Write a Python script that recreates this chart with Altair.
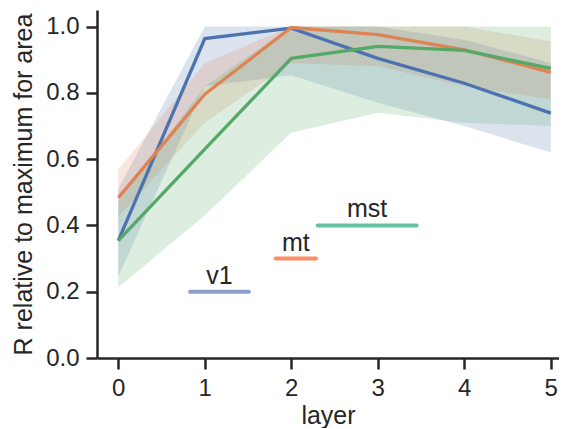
import altair as alt
import pandas as pd

layers = [0, 1, 2, 3, 4, 5]
series = ["v1", "mt", "mst"]

v1_mean = [0.354, 0.964, 0.995, 0.904, 0.829, 0.739]
mt_mean = [0.483, 0.796, 0.997, 0.976, 0.930, 0.862]
mst_mean = [0.354, 0.630, 0.904, 0.940, 0.928, 0.874]

v1_lo = [0.246, 0.820, 0.853, 0.770, 0.700, 0.620]
v1_hi = [0.510, 1.000, 1.000, 1.000, 0.960, 0.890]
mt_lo = [0.426, 0.710, 0.890, 0.880, 0.820, 0.780]
mt_hi = [0.568, 0.890, 1.000, 1.000, 1.000, 0.955]
mst_lo = [0.213, 0.430, 0.680, 0.740, 0.710, 0.700]
mst_hi = [0.470, 0.820, 1.000, 1.000, 1.000, 1.000]

line_colors = ["#4C72B0", "#DD8452", "#55A868"]

# annotation labels (text over a short coloured bar)
ann_labels = ["v1", "mt", "mst"]
ann_x0 = [0.83, 1.82, 2.305]
ann_x1 = [1.51, 2.285, 3.45]
ann_y = [0.2, 0.3, 0.4]
ann_colors = ["#8DA0CB", "#FC8D62", "#66C2A5"]

means = {"v1": v1_mean, "mt": mt_mean, "mst": mst_mean}
los = {"v1": v1_lo, "mt": mt_lo, "mst": mst_lo}
his = {"v1": v1_hi, "mt": mt_hi, "mst": mst_hi}

rows = []
for s in series:
    for i, L in enumerate(layers):
        rows.append({"layer": L, "area": s, "mean": means[s][i],
                     "lo": los[s][i], "hi": his[s][i]})
df = pd.DataFrame(rows)

ann = pd.DataFrame({
    "label": ann_labels,
    "x0": ann_x0,
    "x1": ann_x1,
    "y": ann_y,
    "color": ann_colors,
})
ann["xm"] = (ann["x0"] + ann["x1"]) / 2

xscale = alt.Scale(domain=[-0.246, 5.095], nice=False, zero=False)
yscale = alt.Scale(domain=[0, 1.05], nice=False)
cscale = alt.Scale(domain=series, range=line_colors)

x_enc = alt.X("layer:Q", scale=xscale,
              axis=alt.Axis(values=layers, format="d", title="layer"))
y_axis = alt.Axis(values=[0, 0.2, 0.4, 0.6, 0.8, 1.0], format=".1f",
                  title="R relative to maximum for area")

base = alt.Chart(df)

bands = base.mark_area(opacity=0.2, clip=True).encode(
    x=x_enc,
    y=alt.Y("lo:Q", scale=yscale, axis=y_axis),
    y2="hi:Q",
    color=alt.Color("area:N", scale=cscale, legend=None),
    detail="area:N",
)

lines = base.mark_line(strokeWidth=3.3).encode(
    x=x_enc,
    y=alt.Y("mean:Q", scale=yscale, axis=y_axis),
    color=alt.Color("area:N", scale=cscale, legend=None),
    order="layer:Q",
)

abase = alt.Chart(ann)
bars = abase.mark_rule(strokeWidth=4, strokeCap="round").encode(
    x=alt.X("x0:Q", scale=xscale),
    x2="x1:Q",
    y=alt.Y("y:Q", scale=yscale),
    color=alt.Color("color:N", scale=None),
)
texts = abase.mark_text(fontSize=25, baseline="alphabetic", align="center",
                        dy=-8, color="#262626", font="Liberation Sans").encode(
    x=alt.X("xm:Q", scale=xscale),
    y=alt.Y("y:Q", scale=yscale),
    text="label:N",
)

chart = alt.layer(bands, lines, bars, texts).properties(
    width=462,
    height=348,
    autosize=alt.AutoSizeParams(type="none"),
    padding={"left": 89, "top": 2, "right": 0, "bottom": 70},
).configure_view(stroke=None).configure_axis(
    grid=False,
    domainColor="#262626",
    domainWidth=2.5,
    tickColor="#262626",
    tickWidth=2.5,
    tickSize=11,
    labelFont="Liberation Sans",
    titleFont="Liberation Sans",
    labelFontSize=24,
    titleFontSize=25,
    labelColor="#262626",
    titleColor="#262626",
    titleFontWeight="normal",
    labelPadding=7,
).configure_axisY(
    titlePadding=9,
).configure_axisX(
    titlePadding=3,
)

chart.save("out.html", embed_options={"renderer": "svg", "actions": False})
